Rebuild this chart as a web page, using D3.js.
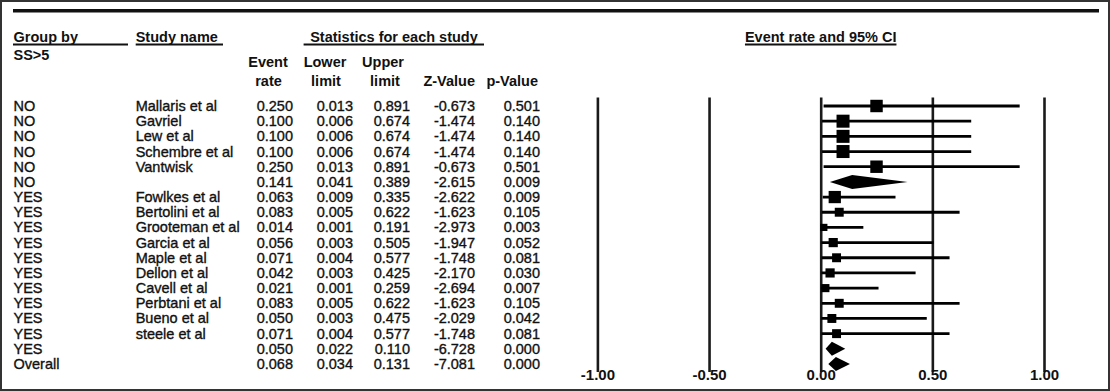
<!DOCTYPE html>
<html>
<head>
<meta charset="utf-8">
<script src="https://cdn.jsdelivr.net/npm/d3@7"></script>
<style>
  html, body { margin: 0; padding: 0; background: #fff; }
  svg { display: block; }
  text { font-family: "Liberation Sans", Arial, sans-serif; fill: #111; }
  .cell { stroke: #111; stroke-width: 0.35px; }
</style>
</head>
<body>
<svg id="chart" width="1110" height="391"></svg>
<script>
// ---- data ----
const groups = ["NO","NO","NO","NO","NO","NO","YES","YES","YES","YES","YES","YES","YES","YES","YES","YES","YES","Overall"];
const studies = ["Mallaris et al","Gavriel","Lew et al","Schembre et al","Vantwisk","",
  "Fowlkes et al","Bertolini et al","Grooteman et al","Garcia et al","Maple et al","Dellon et al",
  "Cavell et al","Perbtani et al","Bueno et al","steele et al","",""];
const eventRate  = [0.250,0.100,0.100,0.100,0.250,0.141,0.063,0.083,0.014,0.056,0.071,0.042,0.021,0.083,0.050,0.071,0.050,0.068];
const lowerLimit = [0.013,0.006,0.006,0.006,0.013,0.041,0.009,0.005,0.001,0.003,0.004,0.003,0.001,0.005,0.003,0.004,0.022,0.034];
const upperLimit = [0.891,0.674,0.674,0.674,0.891,0.389,0.335,0.622,0.191,0.505,0.577,0.425,0.259,0.622,0.475,0.577,0.110,0.131];
const zValue     = [-0.673,-1.474,-1.474,-1.474,-0.673,-2.615,-2.622,-1.623,-2.973,-1.947,-1.748,-2.170,-2.694,-1.623,-2.029,-1.748,-6.728,-7.081];
const pValue     = [0.501,0.140,0.140,0.140,0.501,0.009,0.009,0.105,0.003,0.052,0.081,0.030,0.007,0.105,0.042,0.081,0.000,0.000];
// relative weights; null = summary row
const weights    = [6.6,7.2,7.2,7.2,6.6,null,6.4,3.4,2.2,3.6,3.4,3.6,2.8,3.4,3.4,3.4,null,null];
const tickValues = [-1.00,-0.50,0.00,0.50,1.00];
const headers = {
  groupBy: "Group by", groupVar: "SS>5", study: "Study name",
  stats: "Statistics for each study", plot: "Event rate and 95% CI"
};

// ---- layout ----
const svg = d3.select("#chart");
const ink = "#111";

// frame
svg.append("rect").attr("x",1).attr("y",1).attr("width",1108).attr("height",389)
  .attr("fill","none").attr("stroke","#333").attr("stroke-width",2);
// thick top rule
svg.append("line").attr("x1",13).attr("x2",1099).attr("y1",10.7).attr("y2",10.7)
  .attr("stroke",ink).attr("stroke-width",3.6);

const rows = d3.range(eventRate.length);
const x = d3.scaleLinear().domain([-1,1]).range([597.4,1044]);
const y = d3.scalePoint().domain(rows).range([106,364]);
const size = d3.scaleSqrt().domain([0,7.2]).range([0,13]);

// ---- header texts ----
function hdr(txt, xx, yy, anchor, underlineFrom, underlineTo) {
  const t = svg.append("text").attr("x",xx).attr("y",yy).attr("text-anchor",anchor||"start")
    .attr("font-size",14.5).attr("font-weight","bold").text(txt);
  if (underlineFrom !== undefined) {
    let x1 = underlineFrom, x2 = underlineTo;
    if (x1 === null) { const b = t.node().getBBox(); x1 = b.x; x2 = b.x + b.width; }
    svg.append("line").attr("x1",x1).attr("x2",x2).attr("y1",44.5).attr("y2",44.5)
      .attr("stroke",ink).attr("stroke-width",1.8);
  }
  return t;
}
hdr(headers.groupBy, 13.5, 41.5, "start", 13, 128);
hdr(headers.study, 135.7, 41.5, "start", 135.7, 223);
hdr(headers.stats, 394, 41.5, "middle", 303.6, 484);
hdr(headers.plot, 820.7, 41.5, "middle", null);
hdr(headers.groupVar, 13.5, 60, "start");

hdr("Event", 268, 67, "middle");
hdr("rate", 268.5, 86, "middle");
hdr("Lower", 325, 67, "middle");
hdr("limit", 326, 86, "middle");
hdr("Upper", 383, 67, "middle");
hdr("limit", 385, 86, "middle");
hdr("Z-Value", 475, 86, "end");
hdr("p-Value", 538, 86, "end");

// ---- table rows ----
const f3 = v => v.toFixed(3);
const cols = [
  {vals: groups, x: 13.5, anchor: "start", fmt: d => d},
  {vals: studies, x: 135.7, anchor: "start", fmt: d => d},
  {vals: eventRate, x: 293, anchor: "end", fmt: f3},
  {vals: lowerLimit, x: 353, anchor: "end", fmt: f3},
  {vals: upperLimit, x: 410, anchor: "end", fmt: f3},
  {vals: zValue, x: 475, anchor: "end", fmt: f3},
  {vals: pValue, x: 540, anchor: "end", fmt: f3}
];
cols.forEach(c => {
  svg.append("g").selectAll("text").data(rows).join("text")
    .attr("class","cell")
    .attr("x", c.x).attr("y", i => y(i) + 5)
    .attr("text-anchor", c.anchor).attr("font-size", 14.5)
    .text(i => c.fmt(c.vals[i]));
});

// ---- forest plot axis (vertical reference lines) ----
const axisBottomY = 372;
const axis = d3.axisBottom(x).tickValues(tickValues)
  .tickSize(-(axisBottomY - 97.5)).tickPadding(-2.6)
  .tickFormat(d => d.toFixed(2));
const ag = svg.append("g").attr("transform", `translate(0,${axisBottomY})`).call(axis);
ag.select(".domain").remove();
ag.selectAll(".tick line").attr("stroke","#1a1a1a").attr("stroke-width",2.6);
ag.selectAll(".tick text").attr("fill","#222").attr("font-size",15).attr("font-weight","bold")
  .attr("font-family","'Liberation Sans', Arial, sans-serif");

// ---- CI lines and squares for studies ----
const studyRows = rows.filter(i => weights[i] !== null);
const summaryRows = rows.filter(i => weights[i] === null);

svg.append("g").selectAll("line").data(studyRows).join("line")
  .attr("x1", i => x(lowerLimit[i])).attr("x2", i => x(upperLimit[i]))
  .attr("y1", i => y(i)).attr("y2", i => y(i))
  .attr("stroke", "#000").attr("stroke-width", 2.8);

svg.append("g").selectAll("rect").data(studyRows).join("rect")
  .attr("x", i => x(eventRate[i]) - size(weights[i]) / 2)
  .attr("y", i => y(i) - size(weights[i]) / 2)
  .attr("width", i => size(weights[i])).attr("height", i => size(weights[i]))
  .attr("fill", "#000");

// ---- summary diamonds ----
const dh = 7;
svg.append("g").selectAll("path").data(summaryRows).join("path")
  .attr("d", i => {
    const yy = y(i);
    return `M${x(lowerLimit[i])},${yy}L${x(eventRate[i])},${yy - dh}L${x(upperLimit[i])},${yy}L${x(eventRate[i])},${yy + dh}Z`;
  })
  .attr("fill", "#000");
</script>
</body>
</html>
